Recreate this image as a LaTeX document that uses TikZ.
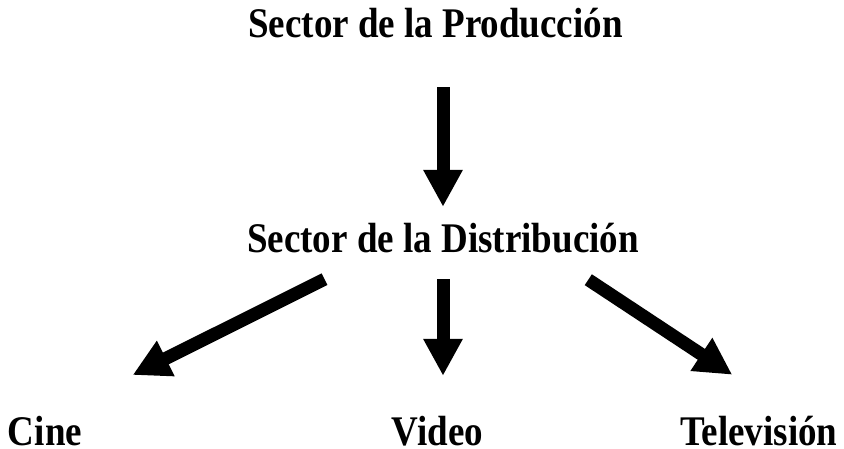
\documentclass[tikz,border=0pt]{standalone}
\usepackage{fontspec}
\setmainfont{Liberation Serif}[FakeStretch=0.877]
\usepackage{tikz}
\usetikzlibrary{arrows.meta}

\begin{document}
\begin{tikzpicture}[x=1pt,y=-1pt]

  \tikzset{LBL/.style={inner sep=0pt, anchor=base, text height=26pt, text depth=0pt,
      font=\bfseries\fontsize{42.2pt}{50pt}\selectfont} }

  \tikzset{ARR/.style={line width=13pt, -{Triangle[width=37pt,length=37pt]}} }

  \useasboundingbox (0,0) rectangle (844,449);

  \node[LBL] (prod) at (435.5, 38) {Sector de la Producción};
  \node[LBL] (dist) at (443.0,253) {Sector de la Distribución};

  \node[LBL] (cine)  at ( 45.0,445) {Cine};
  \node[LBL] (video) at (437.5,445) {Video};
  \node[LBL] (tele)  at (759.0,445) {Televisión};

  \draw[ARR, shorten <=49pt, shorten >=20pt] (dist.north |- prod.south) -- (dist.north);
  \draw[ARR, shorten <=26pt, shorten >=43pt] (dist.south) -- (dist.south |- video.north);
  \draw[ARR, shorten >=98pt] ([xshift=-118.5pt,yshift=-26pt]dist.south) -- (cine.north);
  \draw[ARR, shorten >=80pt] ([xshift=145.3pt,yshift=-26.5pt]dist.south) -- ([xshift=40pt]tele.north);
\end{tikzpicture}
\end{document}
